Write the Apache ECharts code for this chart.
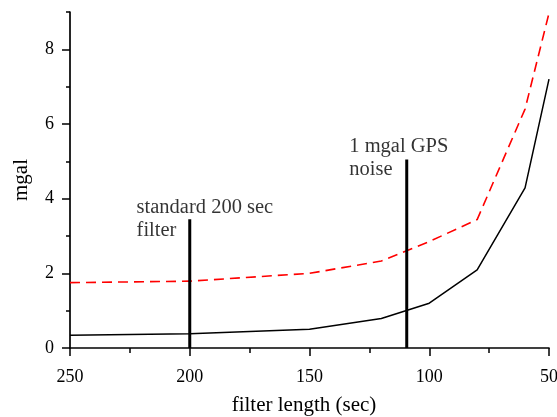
<!DOCTYPE html>
<html>
<head>
<meta charset="utf-8">
<script src="https://cdn.jsdelivr.net/npm/echarts@6/dist/echarts.min.js"></script>
<style>html,body{margin:0;padding:0;background:#fff}#c{width:557px;height:417px}</style>
</head>
<body>
<div id="c"></div>
<script>
// Data
var filterLength = [250, 200, 150, 120, 100, 80, 60, 50];
var solidValues  = [0.34, 0.38, 0.50, 0.79, 1.20, 2.09, 4.29, 7.20];
var dashedValues = [1.75, 1.79, 2.00, 2.33, 2.85, 3.44, 6.40, 8.97];
var xTicks = [250, 200, 150, 100, 50];
var yTicks = [0, 2, 4, 6, 8];
var yMinorTicks = [1, 3, 5, 7, 9];
var marker1 = {x: 200, top: 3.45, text: 'standard 200 sec\nfilter', tx: 222.2, ty: 4.07};
var marker2 = {x: 109.4, top: 5.05, text: '1 mgal GPS\nnoise', tx: 133.4, ty: 5.70};

var FONT = 'Liberation Serif';
function pairs(xs, ys){ return xs.map(function(x,i){ return [x, ys[i]]; }); }

function annotationSeries(m){
  return [{
    type: 'line', data: [[m.x, 0], [m.x, m.top]], symbol: 'none', silent: true,
    lineStyle: {color: '#000', width: 3}, z: 3
  }, {
    type: 'scatter', data: [[m.tx, m.ty]], symbolSize: 0, silent: true,
    label: {show: true, position: [0, 0], align: 'left', verticalAlign: 'top',
      formatter: m.text, fontFamily: FONT, fontSize: 20.5, lineHeight: 23, color: '#000'}
  }];
}

var chart = echarts.init(document.getElementById('c'), null, {renderer: 'canvas'});
chart.setOption({
  animation: false,
  backgroundColor: '#fff',
  grid: {left: 70, right: 8, top: 12, bottom: 69, containLabel: false, outerBoundsMode: 'none'},
  xAxis: {
    type: 'value', inverse: true, min: 50, max: 250, interval: 50,
    name: 'filter length (sec)', nameLocation: 'middle', nameGap: 47,
    nameTextStyle: {fontFamily: FONT, fontSize: 21, color: '#000', padding: [0, 11, 0, 0]},
    axisLine: {show: true, onZero: false, lineStyle: {color: '#000', width: 1.7}},
    axisTick: {show: true, length: 8, lineStyle: {color: '#000', width: 1.5}},
    minorTick: {show: true, splitNumber: 2, length: 5, lineStyle: {color: '#000', width: 1.5}},
    axisLabel: {fontFamily: FONT, fontSize: 18, color: '#000', margin: 20,
      formatter: function(v){ return xTicks.indexOf(v) >= 0 ? String(v) : ''; }},
    splitLine: {show: false}
  },
  yAxis: [{
    type: 'value', min: 0, max: 9, interval: 1,
    name: 'mgal', nameLocation: 'middle', nameGap: 38, nameRotate: 90,
    nameTextStyle: {fontFamily: FONT, fontSize: 21, color: '#000'},
    axisLine: {show: true, lineStyle: {color: '#000', width: 1.7}},
    axisTick: {show: true, length: 8, customValues: yTicks, lineStyle: {color: '#000', width: 1.5}},
    axisLabel: {fontFamily: FONT, fontSize: 18, color: '#000', margin: 16, customValues: yTicks},
    splitLine: {show: false}
  }, {
    type: 'value', min: 0, max: 9, interval: 1, position: 'left',
    axisLine: {show: false},
    axisTick: {show: true, length: 4, customValues: yMinorTicks, lineStyle: {color: '#000', width: 1.5}},
    axisLabel: {show: false},
    splitLine: {show: false}
  }],
  series: [{
    type: 'line', data: pairs(filterLength, solidValues), symbol: 'none',
    lineStyle: {color: '#000', width: 1.5}, z: 2
  }, {
    type: 'line', data: pairs(filterLength, dashedValues), symbol: 'none',
    lineStyle: {color: '#ff0000', width: 1.6, type: [10, 6]}, z: 2
  }].concat(annotationSeries(marker1)).concat(annotationSeries(marker2))
});
</script>
</body>
</html>
